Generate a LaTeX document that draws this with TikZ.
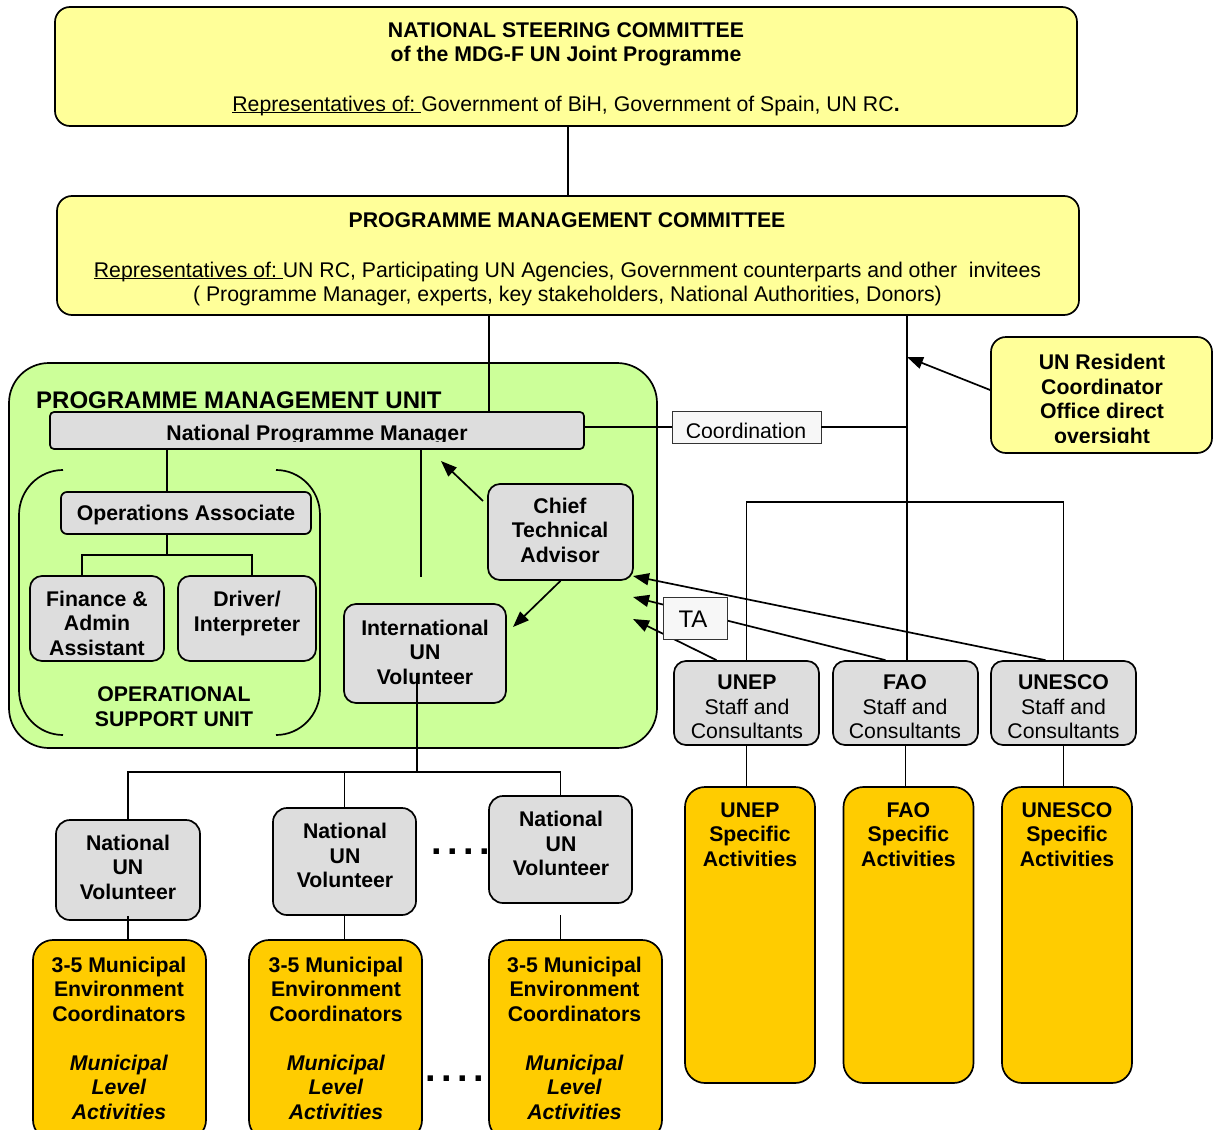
\documentclass[tikz,border=0pt]{standalone}
\usepackage{fontspec}
\setmainfont{Liberation Sans}
\usetikzlibrary{arrows.meta,calc}
\definecolor{ylw}{HTML}{FFFF99}
\definecolor{grn}{HTML}{CCFF99}
\definecolor{gry}{HTML}{DDDDDD}
\definecolor{gld}{HTML}{FFCC00}
\newcommand\fsz{\fontsize{21.25}{24.5}\selectfont}
\newcommand\myul[1]{\leavevmode\setbox0\hbox{#1}\rlap{\rule[-2.4pt]{\wd0}{1.3pt}}\box0}
\frenchspacing
\begin{document}
\frenchspacing
\begin{tikzpicture}[x=1pt,y=-1pt,
  box/.style={draw, line width=1.7pt, rounded corners=#1, inner sep=0pt},
  box/.default=12pt,
  thinbox/.style={draw=black!80, line width=0.9pt, fill=black!3, inner sep=0pt},
  tb/.style={font=\fsz\bfseries, align=center, inner sep=0pt},
  tr/.style={font=\fsz, align=center, inner sep=0pt},
  ln/.style={line width=1.7pt},
  arr/.style={line width=1.7pt, -{Triangle[length=16pt,width=12pt]}},
  dotrow/.style={font=\fontsize{38}{38}\selectfont\bfseries, inner sep=0pt}
]
\fill[white] (0,0) rectangle (1214,1129);
\useasboundingbox (0,0) rectangle (1214,1129);

% ---------- boxes ----------
\node[box=15pt, fill=ylw, minimum width=1022pt, minimum height=119pt] (nsc) at (566,66.5) {};
\node[box=15pt, fill=ylw, minimum width=1022pt, minimum height=119pt] (pmc) at (568,255.5) {};
\node[box=40pt, fill=grn, minimum width=648pt, minimum height=385pt] (pmu) at (333,555.5) {};
\node[box=4pt, fill=gry, minimum width=534pt, minimum height=37pt] (npm) at (317,430.5) {};
\node[box=6pt, fill=gry, minimum width=250pt, minimum height=42pt] (oa) at (186,513) {};
\node[box, fill=gry, minimum width=134pt, minimum height=85pt] (fin) at (97,618.5) {};
\node[box, fill=gry, minimum width=138pt, minimum height=85pt] (drv) at (247,618.5) {};
\node[box, fill=gry, minimum width=145pt, minimum height=96pt] (cta) at (560.5,532) {};
\node[box, fill=gry, minimum width=162pt, minimum height=99pt] (iunv) at (425,653.5) {};
\node[box=15pt, fill=ylw, minimum width=221pt, minimum height=116pt] (rc) at (1101.5,395) {};
\node[box, fill=gry, minimum width=145pt, minimum height=84pt] (unep) at (746.5,703) {};
\node[box, fill=gry, minimum width=145pt, minimum height=84pt] (fao) at (905.5,703) {};
\node[box, fill=gry, minimum width=145pt, minimum height=84pt] (unesco) at (1063.5,703) {};
\node[box=14pt, fill=gry, minimum width=144pt, minimum height=100pt] (nunv1) at (128,870) {};
\node[box=14pt, fill=gry, minimum width=143pt, minimum height=107pt] (nunv2) at (344.5,861.5) {};
\node[box=14pt, fill=gry, minimum width=143pt, minimum height=107pt] (nunv3) at (560.5,849.5) {};
\node[box=20pt, fill=gld, minimum width=173pt, minimum height=200pt] (mla1) at (119.5,1040) {};
\node[box=20pt, fill=gld, minimum width=173pt, minimum height=200pt] (mla2) at (335.5,1040) {};
\node[box=20pt, fill=gld, minimum width=173pt, minimum height=200pt] (mla3) at (575.5,1040) {};
\node[box=20pt, fill=gld, minimum width=130pt, minimum height=296pt] (ua) at (750,935) {};
\node[box=20pt, fill=gld, minimum width=130pt, minimum height=296pt] (fa) at (908.5,935) {};
\node[box=20pt, fill=gld, minimum width=130pt, minimum height=296pt] (usa) at (1067,935) {};
\node[thinbox, minimum width=149pt, minimum height=32pt] (coord) at (746.5,427) {};

% operational support unit brackets
\draw[ln] (63,470) .. controls (38.7,470) and (19,490.1) .. (19,515) -- (19,690)
  .. controls (19,714.9) and (38.7,735) .. (63,735);
\draw[ln] (276,470) .. controls (300.3,470) and (320,490.1) .. (320,515) -- (320,690)
  .. controls (320,714.9) and (300.3,735) .. (276,735);

% ---------- texts ----------
\node[tb] (tnsc1) at (566,44.5) {NATIONAL STEERING COMMITTEE\\of the MDG-F UN Joint Programme};
\node[tr, anchor=base] (tnsc2) at (566,111) {\myul{Representatives of: }Government of BiH, Government of Spain, UN RC\textbf{.}};
\node[tb, anchor=base] (tpmc1) at (567,227) {PROGRAMME MANAGEMENT COMMITTEE};
\node[tr] (tpmc2) at (567.5,283.8) {\myul{Representatives of: }UN RC, Participating UN Agencies, Government counterparts and other\ \ invitees\\( Programme Manager, experts, key stakeholders, National Authorities, Donors)};
\node[font=\fontsize{24}{28}\selectfont\bfseries, inner sep=0pt, anchor=base west] (tpmu) at (36,408) {PROGRAMME MANAGEMENT UNIT};
\begin{scope}
\clip (50,412) rectangle (584,441.5);
\node[tb, anchor=base] (tnpm) at (317,440) {National Programme Manager};
\end{scope}
\begin{scope}
\clip (672,411) rectangle (821,437.8);
\node[tr, anchor=base] (tcoord) at (746,438.3) {Coordination};
\end{scope}
\begin{scope}
\clip (991,337) rectangle (1212,442);
\node[tb] (trc) at (1102,400.8) {UN Resident\\Coordinator\\Office direct\\oversight};
\end{scope}
\node[tb, anchor=base] (toa) at (186,520) {Operations Associate};
\node[tb] (tfin) at (97,623.3) {Finance \&\\Admin\\Assistant};
\node[tb] (tdrv) at (247,613.3) {Driver/\\Interpreter};
\node[tb] (tosu) at (174,706.6) {OPERATIONAL\\SUPPORT UNIT};
\node[tb] (tcta) at (560,529.9) {Chief\\Technical\\Advisor};
\node[tb] (tiunv) at (425,651.9) {International\\UN\\Volunteer};
\node[tr] (tunep) at (747,706.9) {\textbf{UNEP}\\Staff and\\Consultants};
\node[tr] (tfao) at (905,706.9) {\textbf{FAO}\\Staff and\\Consultants};
\node[tr] (tunesco) at (1063.5,706.9) {\textbf{UNESCO}\\Staff and\\Consultants};
\node[tb] (tnunv1) at (128,866.9) {National\\UN\\Volunteer};
\node[tb] (tnunv2) at (345,855.4) {National\\UN\\Volunteer};
\node[tb] (tnunv3) at (561,843.4) {National\\UN\\Volunteer};
\node[tb] (tmla1) at (119,1038.3) {3-5 Municipal\\Environment\\Coordinators\\[24.5pt]\textit{Municipal}\\\textit{Level}\\\textit{Activities}};
\node[tb] (tmla2) at (336,1038.3) {3-5 Municipal\\Environment\\Coordinators\\[24.5pt]\textit{Municipal}\\\textit{Level}\\\textit{Activities}};
\node[tb] (tmla3) at (574.5,1038.3) {3-5 Municipal\\Environment\\Coordinators\\[24.5pt]\textit{Municipal}\\\textit{Level}\\\textit{Activities}};
\node[tb] (tua) at (750,834.4) {UNEP\\Specific\\Activities};
\node[tb] (tfa) at (908.4,834.4) {FAO\\Specific\\Activities};
\node[tb] (tusa) at (1067,834.4) {UNESCO\\Specific\\Activities};
\node[dotrow] (dots1) at (460.5,852) {.\hspace{5.4pt}.\hspace{5.4pt}.\hspace{5.4pt}.};
\node[dotrow] (dots2) at (455,1079) {.\hspace{5.4pt}.\hspace{5.4pt}.\hspace{5.4pt}.};

% ---------- helper coordinates ----------
\coordinate (x489) at (489,0);
\coordinate (x907) at (907,0);
\coordinate (x167) at (167,0);
\coordinate (fbl) at (82,555);
\coordinate (fbr) at (252,555);
\coordinate (abus) at (0,502);
\coordinate (nbus) at (0,772);
\coordinate (pmdrop) at (421,577);
\coordinate (iuv) at (417,673);
\coordinate (n3s) at (560.5,915);
\coordinate (rctip) at (907,357);
\coordinate (ctatip) at (441,461);
\coordinate (ctast) at (483,501);
\coordinate (iuvtip) at (513,627);
\coordinate (tip1) at (633,576);
\coordinate (tip2) at (633,597);
\coordinate (tip3) at (633,619);

% ---------- connectors ----------
\draw[ln] (pmc.north |- nsc.south) -- (pmc.north);
\draw[ln] (pmc.south -| x489) -- (npm.north -| x489);
\draw[ln] (pmc.south -| x907) -- (fao.north -| x907);
\draw[ln] (npm.east |- coord.west) -- (coord.west);
\draw[ln] (coord.east) -- (coord.east -| x907);
\draw[arr] ([yshift=5pt]rc.west) -- (rctip);
\draw[ln] (unep.north) -- (unep.north |- abus) -- (unesco.north |- abus) -- (unesco.north);
\draw[ln] (npm.south -| x167) -- (oa.north -| x167);
\draw[ln] (oa.south -| x167) -- (x167 |- fbl);
\draw[ln] (fin.north -| fbl) -- (fbl) -- (fbr) -- (drv.north -| fbr);
\draw[ln] (npm.south -| pmdrop) -- (pmdrop);
\draw[arr] (ctast) -- (ctatip);
\draw[arr] (cta.south) -- (iuvtip);
\draw[ln] (iuv) -- (iuv |- nbus);
\draw[ln] (nunv1.north) -- (nunv1.north |- nbus) -- (nunv3.north |- nbus) -- (nunv3.north);
\draw[ln] (nunv2.north) -- (nunv2.north |- nbus);
\draw[ln] ([yshift=5pt]nunv1.south) -- (nunv1.south |- mla1.north);
\draw[ln] (nunv2.south) -- (nunv2.south |- mla2.north);
\draw[ln] (n3s) -- (n3s |- mla3.north);
\draw[ln] (unep.south) -- (unep.south |- ua.north);
\draw[ln] (fao.south) -- (fao.south |- fa.north);
\draw[ln] (unesco.south) -- (unesco.south |- usa.north);
\draw[arr] ([xshift=-18pt]unesco.north) -- (tip1);
\draw[arr] ([xshift=-20pt]fao.north) -- (tip2);
\draw[arr] ([xshift=-30pt]unep.north) -- (tip3);

\node[thinbox, minimum width=64pt, minimum height=42pt] (ta) at (695,618) {};
\node[font=\fontsize{24}{28}\selectfont, inner sep=0pt, anchor=base] (tta) at (693,627) {TA};
\end{tikzpicture}
\end{document}
